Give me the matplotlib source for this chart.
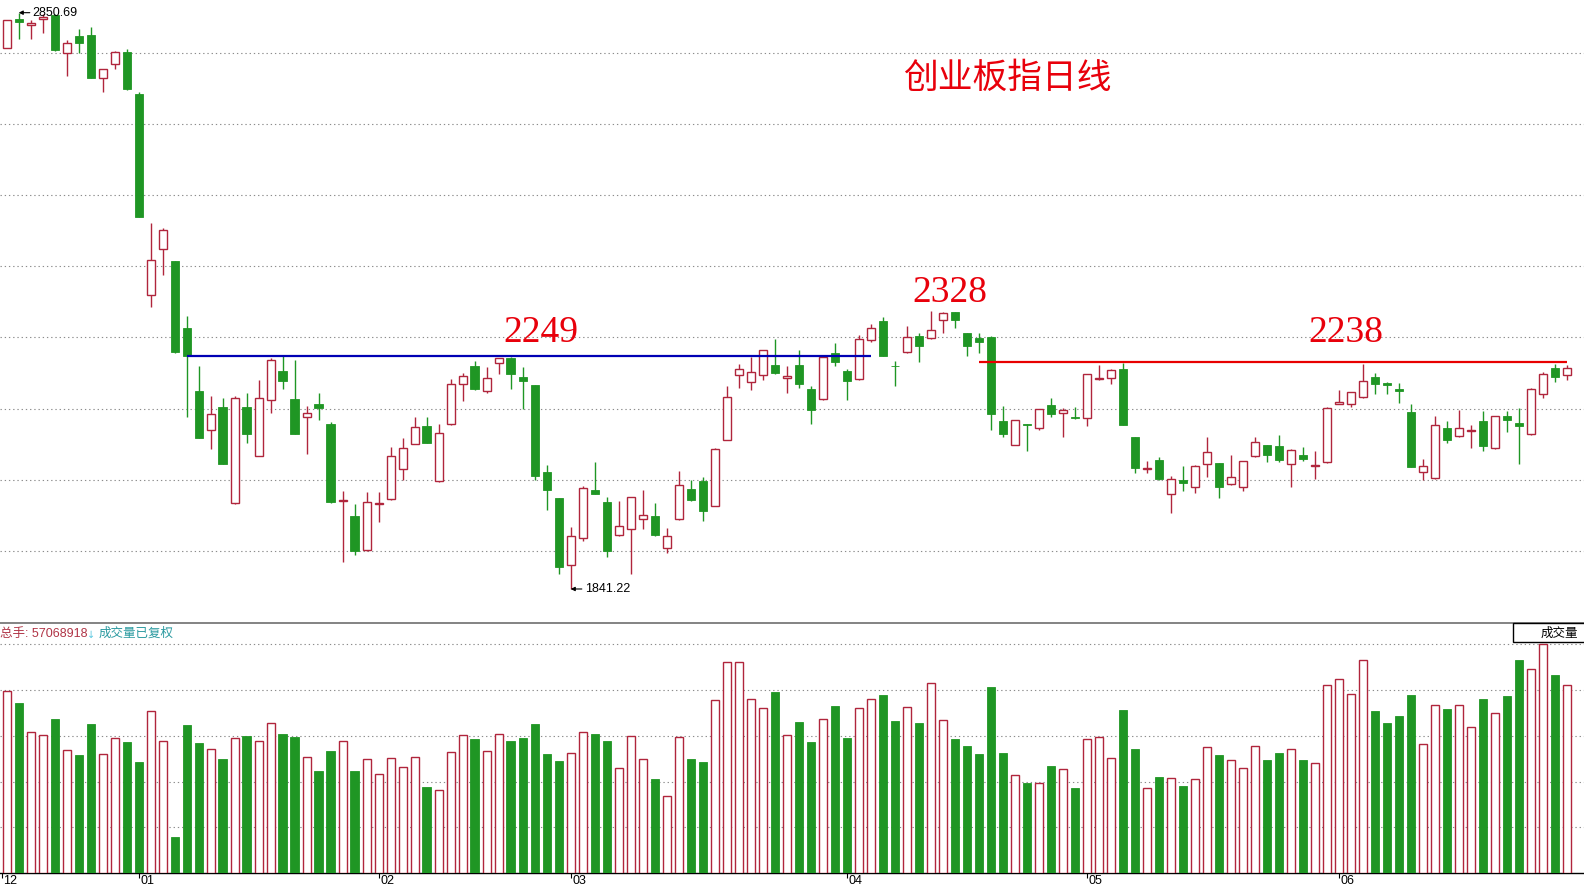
import numpy as np
import matplotlib
matplotlib.use("Agg")
import matplotlib.pyplot as plt
from matplotlib.patches import Rectangle
from matplotlib.transforms import offset_copy

# ---- daily OHLC of the ChiNext index (创业板指) ----
opens = [2788, 2839, 2829, 2840, 2847, 2780, 2810, 2812, 2736, 2760,
         2781, 2708, 2356, 2436, 2416, 2298, 2188, 2119, 2160, 1991,
         2160, 2075, 2172, 2223, 2174, 2142, 2165, 2131, 1996, 1969,
         1909, 1990, 1998, 2051, 2096, 2127, 2030, 2130, 2200, 2231,
         2188, 2237, 2245, 2212, 2198, 2046, 2000, 1883, 1931, 2014,
         1993, 1935, 1946, 1963, 1969, 1913, 1963, 2016, 2030, 1987,
         2103, 2216, 2203, 2216, 2234, 2210, 2233, 2191, 2174, 2255,
         2223, 2209, 2277, 2311, 2232, 2256, 2284, 2280, 2312, 2326,
         2290, 2280, 2282, 2136, 2094, 2130, 2124, 2163, 2150, 2142,
         2140, 2209, 2210, 2227, 2107, 2052, 2067, 2007, 2032, 2019,
         2061, 2062, 2025, 2019, 2074, 2093, 2092, 2061, 2076, 2056,
         2063, 2166, 2165, 2177, 2212, 2202, 2191, 2151, 2046, 2035,
         2124, 2110, 2118, 2135, 2088, 2144, 2132, 2112, 2182, 2228,
         2216]

highs = [2837, 2850.69, 2837, 2848, 2848, 2803, 2822, 2826, 2752, 2784,
         2787, 2712, 2483, 2473, 2416, 2319, 2231, 2179, 2175, 2179,
         2184, 2207, 2245, 2249, 2242, 2162, 2184, 2134, 2013, 1990,
         2011, 2011, 2090, 2105, 2142, 2142, 2130, 2209, 2219, 2241,
         2230, 2245, 2248, 2230, 2199, 2058, 2001, 1950, 2022, 2064,
         2003, 1995, 2002, 2015, 1992, 1948, 2048, 2033, 2038, 2089,
         2196, 2235, 2248, 2260, 2279, 2231, 2260, 2196, 2249, 2272,
         2226, 2286, 2305, 2317, 2240, 2302, 2289, 2328, 2327, 2327,
         2290, 2290, 2284, 2161, 2137, 2131, 2156, 2176, 2158, 2160,
         2218, 2233, 2226, 2237, 2108, 2066, 2073, 2039, 2057, 2058,
         2107, 2062, 2076, 2065, 2107, 2094, 2111, 2086, 2090, 2083,
         2160, 2190, 2187, 2236, 2219, 2203, 2202, 2165, 2069, 2144,
         2136, 2155, 2128, 2153, 2144, 2153, 2158, 2194, 2221, 2235,
         2234]

lows = [2788, 2804, 2804, 2815, 2784, 2739, 2780, 2736, 2712, 2752,
        2716, 2492, 2335, 2391, 2255, 2143, 2105, 2087, 2060, 1990,
        2097, 2074, 2150, 2191, 2112, 2078, 2138, 1991, 1889, 1901,
        1908, 1958, 1997, 2033, 2095, 2097, 2029, 2129, 2171, 2189,
        2184, 2217, 2191, 2156, 2032, 1980, 1867, 1841.22, 1926, 2007,
        1897, 1934, 1867, 1947, 1934, 1904, 1962, 1995, 1961, 1986,
        2102, 2193, 2190, 2207, 2218, 2185, 2194, 2131, 2173, 2232,
        2173, 2207, 2273, 2249, 2196, 2255, 2238, 2279, 2290, 2299,
        2250, 2255, 2120, 2108, 2093, 2083, 2120, 2143, 2108, 2139,
        2127, 2208, 2200, 2128, 2045, 2045, 2032, 1975, 2013, 2009,
        2038, 2001, 2024, 2013, 2073, 2063, 2063, 2020, 2066, 2034,
        2062, 2165, 2160, 2176, 2183, 2182, 2167, 2055, 2032, 2034,
        2097, 2107, 2089, 2083, 2087, 2117, 2061, 2111, 2175, 2204,
        2207]

closes = [2837, 2834, 2832, 2843, 2785, 2797, 2797, 2737, 2752, 2781,
          2717, 2493, 2418, 2470, 2257, 2250, 2106, 2147, 2061, 2175,
          2113, 2175, 2242, 2206, 2113, 2149, 2159, 1994, 1997, 1907,
          1993, 1992, 2075, 2089, 2125, 2097, 2115, 2201, 2215, 2192,
          2210, 2245, 2218, 2205, 2039, 2015, 1880, 1934, 2018, 2008,
          1907, 1952, 2002, 1970, 1936, 1934, 2023, 1997, 1978, 2086,
          2177, 2226, 2221, 2259, 2220, 2215, 2201, 2154, 2248, 2239,
          2206, 2279, 2298, 2250, 2231, 2283, 2266, 2294, 2325, 2312,
          2267, 2273, 2147, 2112, 2137, 2128, 2156, 2147, 2155, 2140,
          2217, 2210, 2224, 2129, 2054, 2054, 2034, 2034, 2026, 2057,
          2081, 2020, 2037, 2065, 2098, 2076, 2067, 2085, 2069, 2058,
          2159, 2168, 2187, 2205, 2201, 2199, 2188, 2055, 2057, 2128,
          2103, 2123, 2120, 2092, 2144, 2138, 2127, 2191, 2217, 2212,
          2228]

# daily volume, millions of lots
volumes = [55.3, 51.6, 42.8, 41.9, 46.8, 37.3, 35.9, 45.3, 36.1, 41.0,
           39.9, 33.8, 49.2, 40.1, 11.0, 45.0, 39.6, 37.6, 34.7, 41.0,
           41.7, 40.1, 45.5, 42.3, 41.4, 35.2, 31.1, 37.1, 40.1, 31.1,
           34.6, 30.1, 34.9, 32.2, 35.2, 26.1, 25.2, 36.7, 41.9, 40.8,
           37.0, 42.2, 40.1, 41.1, 45.3, 36.1, 34.1, 36.4, 42.8, 42.3,
           40.1, 31.9, 41.7, 34.6, 28.6, 23.4, 41.3, 34.7, 33.8, 52.6,
           64.1, 64.1, 52.8, 50.1, 55.0, 41.9, 45.9, 39.9, 46.8, 50.8,
           41.1, 50.1, 52.8, 54.1, 46.2, 50.4, 45.6, 57.7, 46.4, 40.8,
           38.6, 36.2, 56.6, 36.5, 29.8, 27.4, 27.4, 32.6, 31.6, 25.9,
           40.7, 41.3, 34.9, 49.6, 37.7, 25.8, 29.2, 28.8, 26.5, 28.5,
           38.3, 35.9, 34.3, 31.9, 38.6, 34.4, 36.5, 37.6, 34.4, 33.4,
           57.1, 58.9, 54.3, 64.7, 49.3, 45.6, 47.8, 54.1, 39.2, 51.0,
           50.0, 51.0, 44.3, 52.9, 48.6, 53.8, 64.8, 61.9, 69.6, 60.1,
           57.068918]

# month boundaries (bar index) and labels
month_pos = [-0.42, 11, 31, 47, 70, 90, 111]
month_labels = ["12", "01", "02", "03", "04", "05", "06"]

# resistance levels: (value, first bar, last bar)
support_blue = (2249, 15, 72)
resist_red = (2238, 81, 130)
level_labels = [("2249", 44.5, 2274), ("2328", 78.6, 2344), ("2238", 111.6, 2274)]

RED = "#b0253c"
GREEN = "#1f9624"
GRID = "#8c8c8c"
CJK = ["Noto Sans CJK SC", "DejaVu Sans"]

o = np.array(opens, float)
h = np.array(highs, float)
l = np.array(lows, float)
c = np.array(closes, float)
v = np.array(volumes, float)
x = np.arange(len(o))
up = c >= o
lo_b = np.minimum(o, c)
hi_b = np.maximum(o, c)

W, H = 1584, 889
fig = plt.figure(figsize=(W / 100, H / 100), dpi=100)
fig.patch.set_facecolor("white")

xlim = (-6.7 / 12, (W - 6.7) / 12)

# ---------------- price panel ----------------
ax = fig.add_axes([0, 1 - 622 / H, 1, 622 / H])
ax.set_xlim(*xlim)
ax.set_ylim(1783.4, 2872.9)
for s in ax.spines.values():
    s.set_visible(False)
grid_prices = 1907.8 + 124.7 * np.arange(8)
ax.set_yticks(grid_prices)
ax.set_xticks([])
ax.tick_params(axis="y", length=0, labelleft=False)
ax.yaxis.grid(True, color=GRID, linestyle=(0, (1.2, 2.6)), linewidth=0.8)
ax.set_axisbelow(True)

# wicks
ax.vlines(x[~up], l[~up], h[~up], color=GREEN, linewidth=1.0, zorder=2)
ax.vlines(x[up], hi_b[up], h[up], color=RED, linewidth=1.0, zorder=2)
ax.vlines(x[up], l[up], lo_b[up], color=RED, linewidth=1.0, zorder=2)
# bodies
ax.bar(x[up], np.maximum(hi_b[up] - lo_b[up], 0.3), bottom=lo_b[up], width=0.64,
       facecolor="white", edgecolor=RED, linewidth=1.0, zorder=3)
ax.bar(x[~up], np.maximum(hi_b[~up] - lo_b[~up], 1.2), bottom=lo_b[~up], width=0.7,
       facecolor=GREEN, edgecolor=GREEN, linewidth=0.6, zorder=3)

# horizontal levels
ax.hlines(support_blue[0], support_blue[1], support_blue[2], color="#0000b4",
          linewidth=1.6, zorder=4)
ax.hlines(resist_red[0], resist_red[1], resist_red[2], color="#e80000",
          linewidth=1.6, zorder=4)
for txt, xi, yi in level_labels:
    ax.text(xi, yi, txt, color="#e8000b", fontsize=27, family="Liberation Serif",
            ha="center", va="baseline", zorder=5)

# extreme markers
i_hi = int(np.argmax(h))
i_lo = int(np.argmin(l))
for idx, val in ((i_hi, h[i_hi]), (i_lo, l[i_lo])):
    ax.annotate(f"{val:.2f}", xy=(idx, val), xytext=(10, 0), textcoords="offset points",
                ha="left", va="center", fontsize=9, family="Liberation Sans",
                color="black", zorder=6,
                arrowprops=dict(arrowstyle="-|>", color="black", lw=0.8,
                                shrinkA=0, shrinkB=0, mutation_scale=6))

fig.text(1007.5 / W, 1 - 78.5 / H, "创业板指日线", color="#e8000b", fontsize=25,
         family=CJK, ha="center", va="center")

# ---------------- volume panel ----------------
ax2 = fig.add_axes([0, 1 - 873.3 / H, 1, 250.3 / H])
ax2.set_xlim(*xlim)
vmax = v.max()
ax2.set_ylim(0, vmax * 250.3 / 229.3)
for side in ("left", "right"):
    ax2.spines[side].set_visible(False)
ax2.spines["top"].set_color("#6e6e6e")
ax2.spines["top"].set_linewidth(1.2)
ax2.spines["bottom"].set_color("black")
ax2.spines["bottom"].set_linewidth(1.0)
ax2.set_yticks(np.linspace(0, vmax, 6)[1:])
ax2.tick_params(axis="y", length=0, labelleft=False)
ax2.yaxis.grid(True, color=GRID, linestyle=(0, (1.2, 2.6)), linewidth=0.8)
ax2.set_axisbelow(True)

ax2.bar(x[up], v[up], width=0.64, facecolor="white", edgecolor=RED,
        linewidth=1.0, zorder=3)
ax2.bar(x[~up], v[~up], width=0.7, facecolor=GREEN, edgecolor=GREEN,
        linewidth=0.6, zorder=3)

# month ticks with labels sitting just right of each tick
ax2.set_xticks(month_pos)
ax2.tick_params(axis="x", length=3.5, width=0.8, color="black", labelbottom=False)
label_tf = offset_copy(ax2.get_xaxis_transform(), fig=fig, x=1.0, y=-1.5, units="points")
for pos, lab in zip(month_pos, month_labels):
    ax2.text(pos, 0, lab, transform=label_tf, ha="left", va="top",
             fontsize=9, family="Liberation Sans", color="black", clip_on=False)

# panel header
fig.text(0.0, 1 - 633.5 / H, f"总手: {int(round(v[-1] * 1e6))}", color="#b03446",
         fontsize=9, family=["Liberation Sans", "Noto Sans CJK SC"],
         ha="left", va="center")
fig.text(87 / W, 1 - 635 / H, "↓", color="#5cc8e0", fontsize=7,
         family="DejaVu Sans", ha="left", va="center")
fig.text(99 / W, 1 - 633.5 / H, "成交量已复权", color="#2b9aa0", fontsize=9,
         family=CJK, ha="left", va="center")

box = Rectangle((1513.3 / W, 1 - 642.3 / H), (W - 1513.3 + 2) / W, 19 / H,
                transform=fig.transFigure, facecolor="white", edgecolor="black",
                linewidth=1.0, zorder=10)
fig.add_artist(box)
fig.text(1559 / W, 1 - 633.5 / H, "成交量", color="black", fontsize=9,
         family=CJK, ha="center", va="center", zorder=11)

fig.savefig("out.png", dpi=100, facecolor="white")
